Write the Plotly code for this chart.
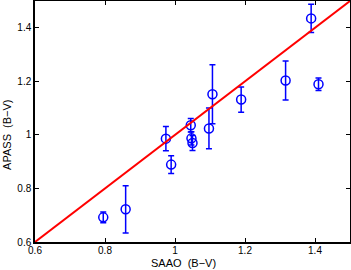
import plotly.graph_objects as go

saao = [0.795, 0.859, 0.974, 0.989, 1.045, 1.047, 1.050, 1.097, 1.107, 1.189, 1.316, 1.389, 1.410]
apass = [0.692, 0.722, 0.986, 0.889, 1.036, 0.987, 0.970, 1.024, 1.152, 1.132, 1.203, 1.435, 1.189]
apass_err = [0.020, 0.088, 0.045, 0.033, 0.025, 0.025, 0.028, 0.076, 0.110, 0.047, 0.073, 0.053, 0.023]

line_x = [0.6, 1.5]
line_y = [0.6, 1.5]

xticks = [0.6, 0.8, 1.0, 1.2, 1.4]
xtick_labels = ["0.6", "0.8", "1", "1.2", "1.4"]
yticks = [0.6, 0.8, 1.0, 1.2, 1.4]
ytick_labels = ["0.6", "0.8", "1", "1.2", "1.4"]

fig = go.Figure()
fig.add_trace(go.Scatter(
    x=saao, y=apass, mode="markers",
    marker=dict(symbol="circle-open", size=9, color="#0000FF", line=dict(width=1.5, color="#0000FF")),
    error_y=dict(type="data", array=apass_err, visible=True, color="#0000FF", thickness=1.5, width=3),
    showlegend=False, cliponaxis=False,
))
fig.add_trace(go.Scatter(
    x=line_x, y=line_y, mode="lines",
    line=dict(color="#FF0000", width=2), showlegend=False,
))

font = dict(family="Liberation Sans, Arial, sans-serif", size=10, color="black")
fig.update_layout(
    width=351, height=270,
    margin=dict(l=35, r=1, t=1, b=28),
    paper_bgcolor="white", plot_bgcolor="white",
    font=font,
    xaxis=dict(
        range=[0.6, 1.5], tickvals=xticks, ticktext=xtick_labels,
        ticks="inside", ticklen=4, tickwidth=1, tickcolor="black",
        showline=True, linecolor="black", linewidth=1.5, mirror="allticks",
        showgrid=False, zeroline=False, automargin=False, ticklabelstandoff=-2,
    ),
    yaxis=dict(
        range=[0.6, 1.5], tickvals=yticks, ticktext=ytick_labels,
        ticks="inside", ticklen=4, tickwidth=1, tickcolor="black",
        showline=True, linecolor="black", linewidth=1.5, mirror="allticks",
        showgrid=False, zeroline=False, automargin=False,
    ),
    annotations=[
        dict(text="SAAO  (B\u2212V)", x=1.023, xref="x", y=0, yref="paper",
             yanchor="middle", yshift=-21, showarrow=False, font=dict(size=11)),
        dict(text="APASS  (B\u2212V)", x=0, xref="paper", xshift=-28, y=1.0, yref="y",
             xanchor="center", textangle=-90, showarrow=False, font=dict(size=11)),
    ],
)
fig.write_html(
    "out.html",
    config={"displayModeBar": False},
    post_script="document.body.style.margin='0';document.body.style.padding='0';",
)
